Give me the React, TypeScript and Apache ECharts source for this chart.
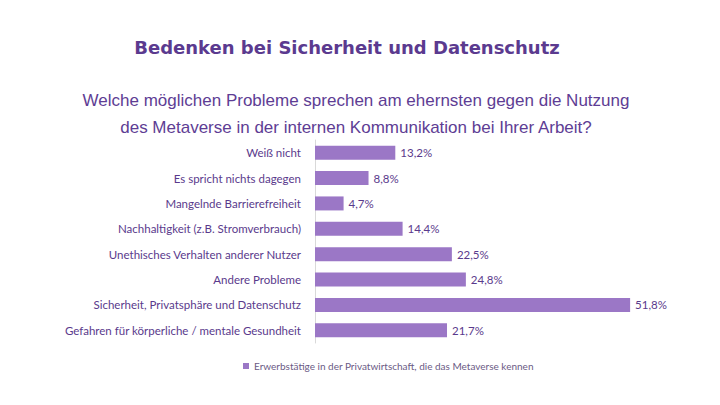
import React, { useEffect, useRef } from "react";
import * as echarts from "echarts";

const categories = [
  "Weiß nicht",
  "Es spricht nichts dagegen",
  "Mangelnde Barrierefreiheit",
  "Nachhaltigkeit (z.B. Stromverbrauch)",
  "Unethisches Verhalten anderer Nutzer",
  "Andere Probleme",
  "Sicherheit, Privatsphäre und Datenschutz",
  "Gefahren für körperliche / mentale Gesundheit",
];
const values = [13.2, 8.8, 4.7, 14.4, 22.5, 24.8, 51.8, 21.7];
const seriesName = "Erwerbstätige in der Privatwirtschaft, die das Metaverse kennen";
const titleText = "Bedenken bei Sicherheit und Datenschutz";
const subtitleLines = [
  "Welche möglichen Probleme sprechen am ehernsten gegen die Nutzung",
  "des Metaverse in der internen Kommunikation bei Ihrer Arbeit?",
];

const BAR = "#9B77C6";
const TEXT = "#5A3A8C";
const LABEL_FONT = "Lato, 'Open Sans', sans-serif";

export default function App() {
  const ref = useRef<HTMLDivElement>(null);
  useEffect(() => {
    document.body.style.margin = "0";
    if (!ref.current) return;
    const chart = echarts.init(ref.current, undefined, { renderer: "svg" });
    chart.setOption({
      animation: false,
      backgroundColor: "#ffffff",
      graphic: [
        {
          type: "text",
          x: 347,
          y: 47,
          style: {
            text: titleText,
            fill: "#5B3A8F",
            font: "bold 18px 'DejaVu Sans', sans-serif",
            textAlign: "center",
            textVerticalAlign: "middle",
          },
        },
        {
          type: "text",
          x: 356,
          y: 100,
          style: {
            text: subtitleLines[0],
            fill: "#5E3D94",
            font: "17px 'Liberation Sans', sans-serif",
            textAlign: "center",
            textVerticalAlign: "middle",
          },
        },
        {
          type: "text",
          x: 356,
          y: 127,
          style: {
            text: subtitleLines[1],
            fill: "#5E3D94",
            font: "17px 'Liberation Sans', sans-serif",
            textAlign: "center",
            textVerticalAlign: "middle",
          },
        },
      ],
      legend: {
        data: [seriesName],
        left: 238,
        top: 356,
        itemWidth: 6,
        itemHeight: 6,
        icon: "rect",
        itemGap: 4,
        textStyle: { color: "#6B5A85", fontSize: 10, fontFamily: LABEL_FONT },
      },
      grid: { left: 315, right: 40, top: 140, bottom: 62 },
      xAxis: {
        type: "value",
        min: 0,
        max: 60,
        show: false,
        splitLine: { show: false },
      },
      yAxis: {
        type: "category",
        data: categories,
        inverse: true,
        axisLine: { show: true, lineStyle: { color: "#D9D9D9", width: 1 } },
        axisTick: { show: false },
        axisLabel: {
          color: TEXT,
          fontSize: 11.5,
          fontFamily: LABEL_FONT,
          margin: 14,
        },
      },
      series: [
        {
          name: seriesName,
          type: "bar",
          data: values,
          barWidth: 14,
          itemStyle: { color: BAR },
          label: {
            show: true,
            position: "right",
            distance: 5,
            color: TEXT,
            fontSize: 11.5,
            fontFamily: LABEL_FONT,
            formatter: (p: any) => p.value.toFixed(1).replace(".", ",") + "%",
          },
        },
      ],
    });
    return () => chart.dispose();
  }, []);
  return <div ref={ref} style={{ width: 720, height: 405 }} />;
}
